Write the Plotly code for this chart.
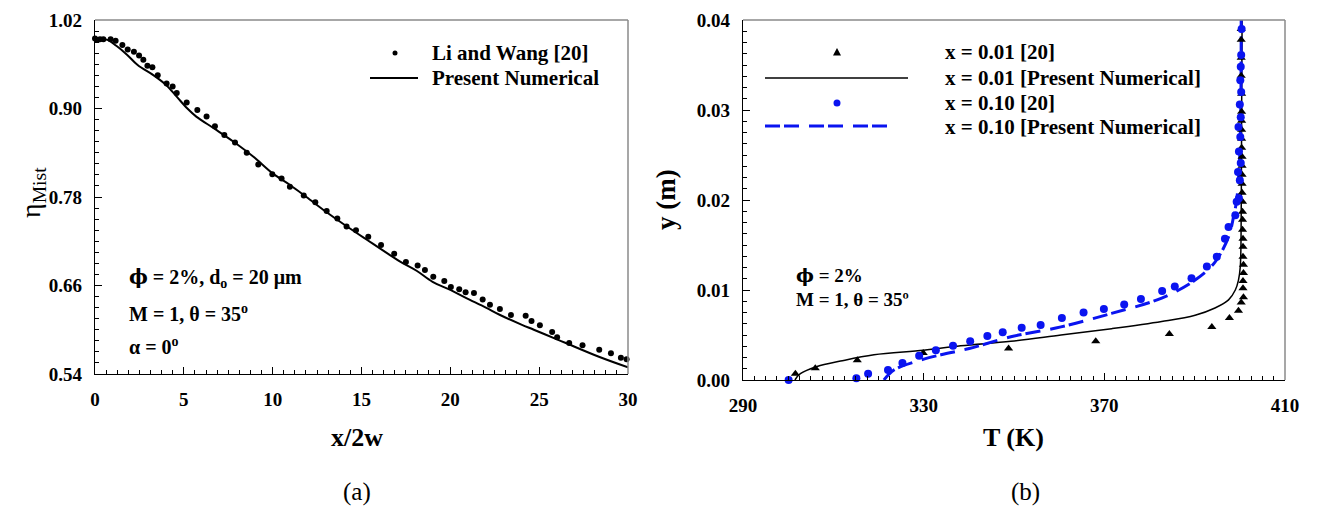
import plotly.graph_objects as go

W, H = 1317, 518

# ---------------- Panel (a) data ----------------
lw_x = [0.0, 0.13, 0.28, 0.47, 0.88, 1.16, 1.54, 1.84, 2.19, 2.48, 2.72, 2.95, 3.23, 3.53, 4.03, 4.37,
        4.6, 5.16, 5.76, 6.28, 6.75, 7.28, 7.88, 8.54, 9.19, 9.98, 10.5, 10.97, 11.75, 12.4, 13.04,
        13.64, 14.16, 14.69, 15.38, 16.1, 16.84, 17.5, 18.16, 18.57, 19.04, 19.66, 20.03, 20.5, 20.86,
        21.33, 21.82, 22.23, 22.79, 23.41, 24.24, 24.57, 25.04, 25.73, 26.01, 26.69, 27.44, 28.38,
        29.04, 29.6, 29.92]
lw_y = [0.995, 0.993, 0.994, 0.994, 0.994, 0.992, 0.986, 0.980, 0.977, 0.972, 0.966, 0.958, 0.956, 0.945,
        0.934, 0.930, 0.921, 0.908, 0.898, 0.889, 0.876, 0.864, 0.854, 0.840, 0.824, 0.811, 0.805, 0.794,
        0.782, 0.773, 0.761, 0.751, 0.740, 0.735, 0.726, 0.715, 0.703, 0.692, 0.687, 0.681, 0.672, 0.666,
        0.658, 0.655, 0.651, 0.650, 0.641, 0.634, 0.628, 0.620, 0.619, 0.612, 0.606, 0.597, 0.590, 0.582,
        0.579, 0.573, 0.568, 0.562, 0.560]

num_x = [0.0, 0.7, 1.2, 1.8, 2.4, 3.3, 4.0, 4.6, 5.2, 5.7, 6.7, 7.8, 8.9, 10.0, 11.0, 11.9, 13.0, 14.0,
         15.3, 16.5, 17.2, 18.1, 19.0, 20.0, 20.9, 22.0, 22.8, 24.0, 24.7, 26.0, 26.5, 28.4, 30.0]
num_y = [0.995, 0.993, 0.985, 0.973, 0.959, 0.945, 0.932, 0.916, 0.900, 0.889, 0.873, 0.855, 0.835, 0.812,
         0.796, 0.780, 0.760, 0.743, 0.722, 0.703, 0.692, 0.680, 0.665, 0.654, 0.643, 0.630, 0.620, 0.607,
         0.600, 0.587, 0.582, 0.563, 0.549]

# ---------------- Panel (b) data ----------------
tri_T = [301.6, 306.0, 315.3, 329.9, 348.8, 368.1, 384.4, 393.8, 397.7, 399.7, 400.3, 400.8, 400.7, 400.7,
         400.8, 400.8, 400.7, 400.7, 400.7, 400.6, 400.6, 400.6, 400.6, 400.5, 400.5, 400.5, 400.5, 400.5,
         400.4, 400.4, 400.4, 400.4, 400.4, 400.4, 400.3, 400.3, 400.3, 400.3]
tri_y = [0.0007, 0.0013, 0.0022, 0.0030, 0.0035, 0.0043, 0.0051, 0.0059, 0.0069, 0.0077, 0.0086, 0.0092,
         0.0102, 0.0110, 0.0119, 0.0128, 0.0137, 0.0148, 0.0157, 0.0167, 0.0178, 0.0187, 0.0198, 0.0208,
         0.0218, 0.0228, 0.0238, 0.0248, 0.0258, 0.0268, 0.0278, 0.0288, 0.0298, 0.0318, 0.0338, 0.0358,
         0.0378, 0.0390]

l01_T = [301.5, 302.7, 306.4, 311.6, 319.0, 330.0, 338.2, 349.3, 360.4, 371.6, 382.7, 390.1, 394.5, 397.5,
         399.0, 399.7, 400.1, 400.3, 400.4, 400.5]
l01_y = [0.0000, 0.0007, 0.0015, 0.0021, 0.0028, 0.0033, 0.0038, 0.0043, 0.0050, 0.0057, 0.0065, 0.0072,
         0.0080, 0.0089, 0.0100, 0.0111, 0.0126, 0.0180, 0.0300, 0.0400]

dot_T = [300.1, 315.1, 317.7, 322.1, 325.3, 329.0, 332.7, 336.5, 340.3, 344.1, 347.5, 351.7, 355.9, 360.6,
         365.4, 369.9, 374.4, 378.1, 382.8, 385.6, 389.3, 392.7, 394.9, 396.7, 397.5, 399.0, 399.3, 399.8,
         400.0, 399.6, 400.2, 399.8, 400.1, 399.7, 400.2, 400.0, 400.3, 400.1, 400.2, 400.3, 400.4]
dot_y = [0.0000, 0.0002, 0.0007, 0.0011, 0.0019, 0.0027, 0.0033, 0.0038, 0.0043, 0.0049, 0.0053, 0.0058,
         0.0061, 0.0069, 0.0075, 0.0079, 0.0084, 0.0090, 0.0099, 0.0104, 0.0113, 0.0126, 0.0137, 0.0157,
         0.0170, 0.0183, 0.0198, 0.0202, 0.0222, 0.0231, 0.0241, 0.0254, 0.0270, 0.0281, 0.0292, 0.0306,
         0.0320, 0.0333, 0.0348, 0.0361, 0.0390]

l10_T = [321.2, 323.4, 327.9, 333.8, 340.1, 349.3, 360.4, 371.6, 382.7, 390.1, 394.5, 397.5, 398.6, 399.3,
         399.9, 400.2, 400.3]
l10_y = [0.0000, 0.0011, 0.0020, 0.0028, 0.0035, 0.0048, 0.0059, 0.0074, 0.0091, 0.0111, 0.0131, 0.0159,
         0.0181, 0.0200, 0.0240, 0.0300, 0.0400]

FONT = "Liberation Serif, Times New Roman, Times, serif"
BLUE = "#0a14f0"
PHI = '<span style="font-family:DejaVu Serif">ϕ</span>'

fig = go.Figure()
fig.add_trace(go.Scatter(x=lw_x, y=lw_y, mode="markers", marker=dict(size=6, color="black"),
                         xaxis="x", yaxis="y", showlegend=False, cliponaxis=False))
fig.add_trace(go.Scatter(x=num_x, y=num_y, mode="lines", line=dict(color="black", width=2, shape="spline"),
                         xaxis="x", yaxis="y", showlegend=False))
fig.add_trace(go.Scatter(x=l01_T, y=l01_y, mode="lines", line=dict(color="black", width=1.5, shape="spline"),
                         xaxis="x2", yaxis="y2", showlegend=False))
fig.add_trace(go.Scatter(x=l10_T, y=l10_y, mode="lines",
                         line=dict(color=BLUE, width=3, dash="15px,4px,15px,10px", shape="spline"),
                         xaxis="x2", yaxis="y2", showlegend=False))
fig.add_trace(go.Scatter(x=tri_T, y=tri_y, mode="markers",
                         marker=dict(symbol="triangle-up", size=8, color="black"),
                         xaxis="x2", yaxis="y2", showlegend=False, cliponaxis=False))
fig.add_trace(go.Scatter(x=dot_T, y=dot_y, mode="markers", marker=dict(size=8, color=BLUE),
                         xaxis="x2", yaxis="y2", showlegend=False, cliponaxis=False))


def px(x):
    return x / W


def py(y):
    return 1 - y / H


tickfont = dict(family=FONT, size=19, color="black", weight="bold")
common = dict(showgrid=False, zeroline=False, showline=True, linecolor="black", linewidth=1.2,
              ticks="inside", ticklen=7, tickcolor="black", tickwidth=1.2, tickfont=tickfont,
              automargin=False)

fig.update_layout(
    width=W, height=H, autosize=False,
    margin=dict(l=0, r=0, t=0, b=0, pad=0),
    paper_bgcolor="white", plot_bgcolor="white",
    xaxis=dict(domain=[px(95), px(628)], range=[0, 30], dtick=5, tick0=0, anchor="y",
               minor=dict(ticks="inside", ticklen=4, dtick=0.625, tick0=0, tickcolor="black"),
               ticklabelstandoff=8, **common),
    yaxis=dict(domain=[py(374), py(20)], range=[0.54, 1.02], dtick=0.12, tick0=0.54, tickformat=".2f",
               anchor="x", minor=dict(ticks="inside", ticklen=4, dtick=0.015, tick0=0.54, tickcolor="black"),
               ticklabelstandoff=8, **common),
    xaxis2=dict(domain=[px(743), px(1285)], range=[290, 410], dtick=40, tick0=290, anchor="y2",
                minor=dict(ticks="inside", ticklen=4, dtick=2.5, tick0=290, tickcolor="black"),
                ticklabelstandoff=8, **common),
    yaxis2=dict(domain=[py(380), py(20)], range=[0, 0.04], dtick=0.01, tick0=0, tickformat=".2f",
                anchor="x2", minor=dict(ticks="inside", ticklen=4, dtick=0.00125, tick0=0, tickcolor="black"),
                ticklabelstandoff=8, **common),
)

shapes = []
# gray top/right frame lines
for (x0, x1, y0, y1) in [(95, 628, 20, 374), (743, 1285, 20, 380)]:
    shapes.append(dict(type="line", xref="paper", yref="paper", x0=px(x0), x1=px(x1), y0=py(y0), y1=py(y0),
                       line=dict(color="#8a8a8a", width=1.5)))
    shapes.append(dict(type="line", xref="paper", yref="paper", x0=px(x1), x1=px(x1), y0=py(y0), y1=py(y1),
                       line=dict(color="#8a8a8a", width=1.5)))

# legend (a)
shapes.append(dict(type="circle", xref="paper", yref="paper", xsizemode="pixel", ysizemode="pixel",
                   xanchor=px(395), yanchor=py(53), x0=-2.5, x1=2.5, y0=-2.5, y1=2.5,
                   fillcolor="black", line=dict(width=0)))
shapes.append(dict(type="line", xref="paper", yref="paper", x0=px(370), x1=px(418), y0=py(78), y1=py(78),
                   line=dict(color="black", width=2)))
# legend (b)
shapes.append(dict(type="path", xref="paper", yref="paper", xsizemode="pixel", ysizemode="pixel",
                   xanchor=px(837), yanchor=py(52), path="M -4,-3.5 L 4,-3.5 L 0,4 Z",
                   fillcolor="black", line=dict(width=0)))
shapes.append(dict(type="line", xref="paper", yref="paper", x0=px(765), x1=px(908), y0=py(78), y1=py(78),
                   line=dict(color="black", width=1.5)))
shapes.append(dict(type="circle", xref="paper", yref="paper", xsizemode="pixel", ysizemode="pixel",
                   xanchor=px(837), yanchor=py(103), x0=-3.5, x1=3.5, y0=-3.5, y1=3.5,
                   fillcolor=BLUE, line=dict(width=0)))
shapes.append(dict(type="line", xref="paper", yref="paper", x0=px(765), x1=px(897), y0=py(126), y1=py(126),
                   line=dict(color=BLUE, width=3, dash="15px,4px,15px,10px")))
fig.update_layout(shapes=shapes)


def ann(text, x, y, size, bold=True, xanchor="left", yanchor="middle", textangle=0):
    fig.add_annotation(text=text, x=px(x), y=py(y), xref="paper", yref="paper", showarrow=False,
                       xanchor=xanchor, yanchor=yanchor, textangle=textangle,
                       font=dict(family=FONT, size=size, color="black", weight="bold" if bold else "normal"))


leg_size = 21
ann("Li and Wang [20]", 430, 53, leg_size)
ann("Present Numerical", 430, 78, leg_size)
ann("x = 0.01 [20]", 943, 52, leg_size)
ann("x = 0.01 [Present Numerical]", 943, 78, leg_size)
ann("x = 0.10 [20]", 943, 103, leg_size)
ann("x = 0.10 [Present Numerical]", 943, 127, leg_size)

ann(PHI + " = 2%, d<sub>o</sub> = 20 μm", 127, 278, 20)
ann("M = 1, θ = 35<sup>o</sup>", 127, 313, 20)
ann("α = 0<sup>o</sup>", 127, 346, 20)

ann(PHI + " = 2%", 794, 275, 19)
ann("M = 1, θ = 35º", 794, 299, 19)

ann("x/2w", 357, 437, 26, xanchor="center")
ann("T (K)", 1013, 437, 26, xanchor="center")
ann("(a)", 357, 492, 25, bold=False, xanchor="center")
ann("(b)", 1025, 492, 25, bold=False, xanchor="center")
ann("η<sub>Mist</sub>", 32, 193, 28, bold=False, xanchor="center", textangle=-90)
ann("y (m)", 666, 200, 27, xanchor="center", textangle=-90)

fig.write_html("out.html")
